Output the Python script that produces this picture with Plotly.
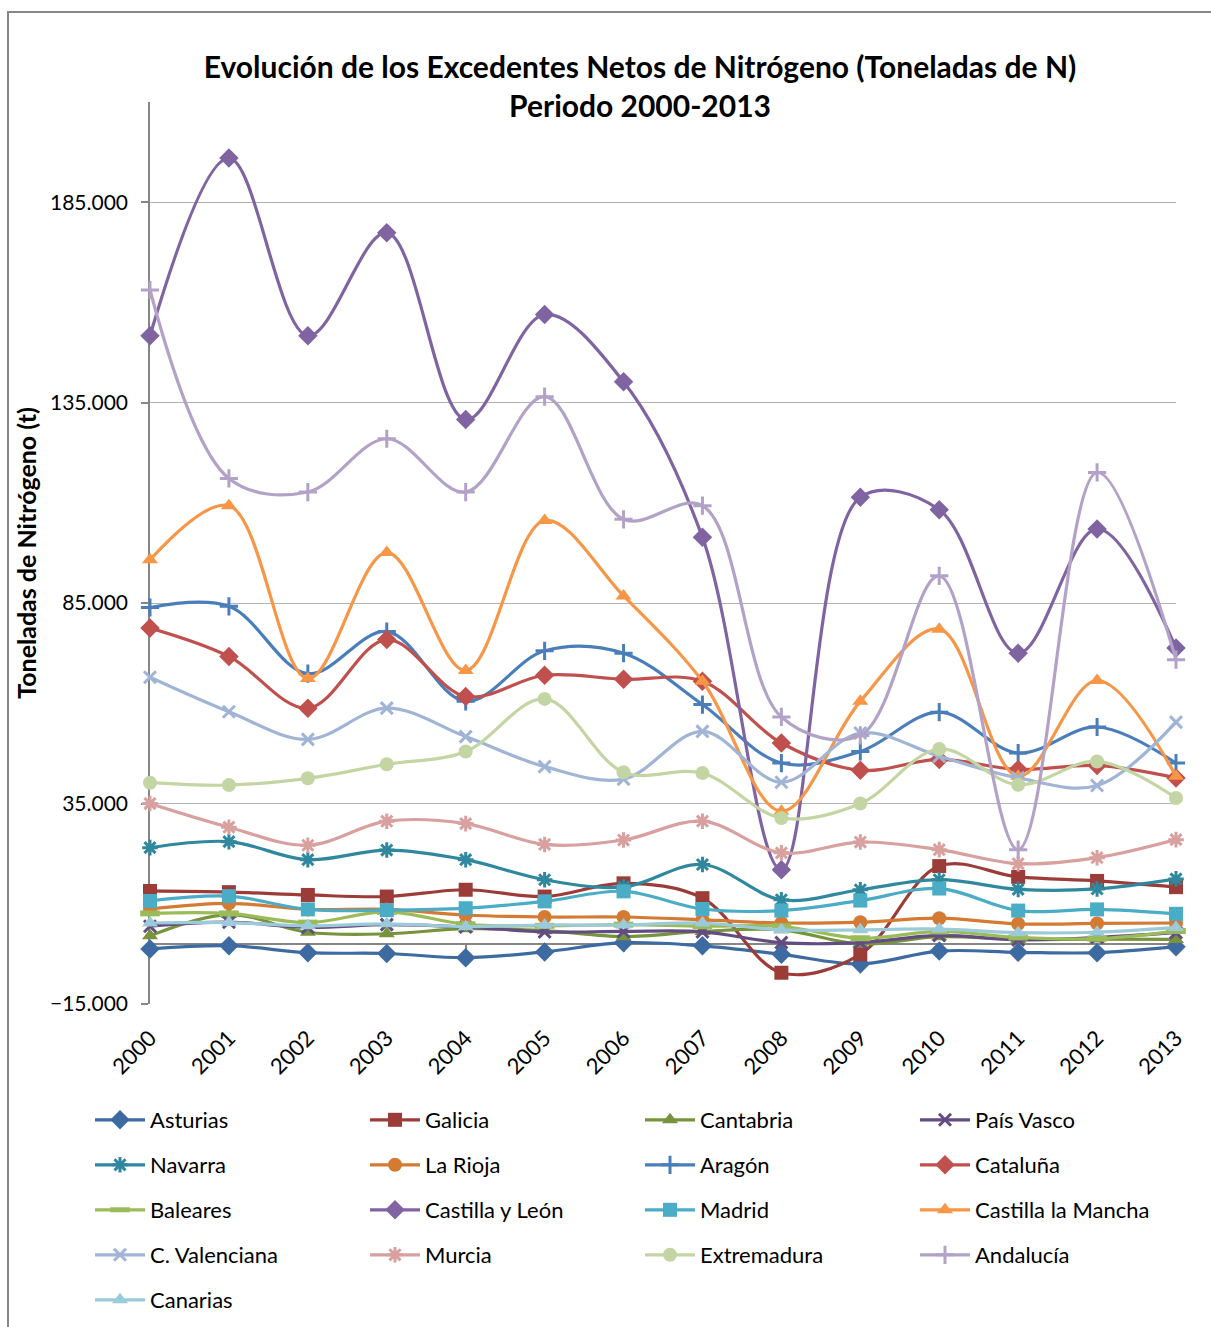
import plotly.graph_objects as go

years = list(range(2000, 2014))
year_labels = [str(y) for y in years]

asturias = [-1250, -450, -2200, -2400, -3450, -2000, 300, -500, -2600, -5000, -1800, -2100, -2200, -700]
galicia = [13200, 12900, 12200, 11800, 13500, 11800, 15100, 11400, -7200, -2600, 19400, 16700, 15700, 14150]
cantabria = [2000, 7300, 2900, 2500, 3800, 3300, 1800, 3100, 3500, 0, 1800, 1100, 1200, 1100]
pais_vasco = [4400, 5400, 4100, 4800, 4200, 3000, 3100, 3000, 300, 300, 2100, 1000, 1600, 2800]
navarra = [24000, 25500, 21000, 23400, 21000, 16000, 14200, 19800, 11000, 13500, 16000, 13600, 13700, 16200]
la_rioja = [8700, 10100, 8600, 8600, 7200, 6700, 6700, 6000, 5200, 5400, 6400, 5000, 5100, 5200]
aragon = [83900, 84200, 67400, 77900, 60500, 73100, 72500, 59700, 45100, 48000, 57800, 47600, 54100, 45100]
cataluna = [78800, 71700, 58800, 75900, 61700, 67000, 66000, 65500, 50100, 43300, 46000, 43500, 44500, 41400]
baleares = [7600, 7600, 5300, 8000, 4900, 4500, 4800, 4400, 4400, 1400, 3100, 1600, 1300, 3200]
castilla_leon = [151700, 196000, 151700, 177400, 130800, 157000, 140200, 101400, 18500, 111400, 108300, 72500, 103500, 73800]
madrid = [10700, 11900, 8600, 8400, 8900, 10600, 13100, 8700, 8300, 10800, 13800, 8300, 8600, 7500]
castilla_mancha = [95800, 109300, 66200, 97600, 68200, 105600, 86800, 65500, 33100, 60500, 78500, 41800, 65700, 41800]
c_valenciana = [66500, 57900, 51000, 58800, 51700, 44200, 41100, 53000, 40300, 52600, 46800, 41400, 39500, 55300]
murcia = [35000, 29100, 24600, 30600, 30000, 24800, 25900, 30600, 22700, 25400, 23500, 20000, 21500, 26000]
extremadura = [40200, 39600, 41300, 44800, 48000, 61100, 42800, 42600, 31400, 35000, 48600, 39700, 45500, 36400]
andalucia = [163100, 116100, 112700, 126000, 112700, 136500, 105900, 109300, 56600, 52000, 91800, 23500, 117600, 70900]
canarias = [5200, 5300, 4500, 5000, 4300, 4700, 4700, 5200, 3500, 3500, 3700, 2800, 2900, 4100]

series_names = ["Asturias", "Galicia", "Cantabria", "País Vasco", "Navarra", "La Rioja",
                "Aragón", "Cataluña", "Baleares", "Castilla y León", "Madrid",
                "Castilla la Mancha", "C. Valenciana", "Murcia", "Extremadura",
                "Andalucía", "Canarias"]
series_values = [asturias, galicia, cantabria, pais_vasco, navarra, la_rioja, aragon,
                 cataluna, baleares, castilla_leon, madrid, castilla_mancha,
                 c_valenciana, murcia, extremadura, andalucia, canarias]

colors = ["#3D6BA1", "#9C3C39", "#77933C", "#634C82", "#2F889E", "#D47A32",
          "#4A7EBB", "#C0504D", "#9BBB59", "#8064A2", "#4BACC6", "#F79646",
          "#A0B4D6", "#D8A09E", "#C3D5A2", "#B3A2C7", "#9BCAD9"]
# (symbol, size, marker line width)
markers = [("diamond", 15, 0), ("square", 14, 0), ("triangle-up", 14, 0),
           ("x-thin-open", 12, 3), ("asterisk-open", 13, 3), ("circle", 14, 0),
           ("cross-thin-open", 13, 3), ("diamond", 15, 0), ("line-ew-open", 14, 6),
           ("diamond", 15, 0), ("square", 14, 0), ("triangle-up", 14, 0),
           ("x-thin-open", 12, 3), ("asterisk-open", 13, 3), ("circle", 14, 0),
           ("cross-thin-open", 13, 3), ("triangle-up", 14, 0)]

FONT = "Lato"
W, H = 1211, 1327
L, R, T, B = 150, 35, 102, 323
YMIN, YMAX = -15000, 210000

# legend grid (4 columns x 5 rows), positions in page pixels
col_x = [90, 365, 640, 915]
row_y = [1120, 1165, 1210, 1255, 1300]

fig = go.Figure()
layout_legends = {}
for i, (name, vals) in enumerate(zip(series_names, series_values)):
    sym, size, lw = markers[i]
    key = "legend" if i == 0 else f"legend{i + 1}"
    layout_legends[key] = dict(
        orientation="h", xref="container", yref="container",
        x=col_x[i % 4] / W, y=1 - row_y[i // 4] / H,
        xanchor="left", yanchor="middle",
        font=dict(family=FONT, size=22, color="#000000"),
        bgcolor="rgba(0,0,0,0)", itemwidth=50)
    fig.add_trace(go.Scatter(
        x=years, y=vals, name=name, mode="lines+markers",
        line=dict(color=colors[i], width=3.2, shape="spline", smoothing=1.0),
        marker=dict(symbol=sym, size=size, color=colors[i],
                    line=dict(width=lw, color=colors[i])),
        cliponaxis=False,
        legend=key,
    ))

# helper trace for the horizontal axis crossing at zero
fig.add_trace(go.Scatter(x=years, y=[None] * len(years), xaxis="x2",
                         showlegend=False, hoverinfo="skip", mode="lines"))

fig.update_layout(
    width=W, height=H,
    margin=dict(l=L, r=R, t=T, b=B, autoexpand=False),
    paper_bgcolor="white", plot_bgcolor="white",
    separators=",.",
    font=dict(family=FONT, color="#000000"),
    title=dict(text="<b>Evolución de los Excedentes Netos de Nitrógeno (Toneladas de N)<br>Periodo 2000-2013</b>",
               x=640 / W, xref="container", xanchor="center",
               y=1 - 78 / H, yref="container", yanchor="middle",
               font=dict(family=FONT, size=30, color="#000000")),
    xaxis=dict(range=[2000, 2013], tickvals=years, ticktext=year_labels,
               tickangle=-45, ticks="", showline=False, showgrid=False,
               zeroline=False, tickfont=dict(family=FONT, size=22),
               ticklabelstandoff=16),
    xaxis2=dict(range=[2000, 2013], overlaying="x", anchor="free",
                position=(0 - YMIN) / (YMAX - YMIN), side="bottom",
                tickvals=years, showticklabels=False, ticks="outside",
                ticklen=7, tickcolor="#868686", tickwidth=1.5,
                showline=True, linecolor="#868686", linewidth=1.5,
                showgrid=False, zeroline=False, layer="below traces"),
    yaxis=dict(range=[YMIN, YMAX],
               tickvals=[-15000, 35000, 85000, 135000, 185000],
               tickformat=",.0f", ticks="outside", ticklen=7,
               tickcolor="#868686", tickwidth=1.5,
               showline=True, linecolor="#868686", linewidth=1.5,
               showgrid=True, gridcolor="#B3B3B3", gridwidth=1.3,
               zeroline=False, layer="below traces",
               tickfont=dict(family=FONT, size=21), ticklabelstandoff=9,
               title=dict(text="<b>Toneladas de Nitrógeno (t)</b>", standoff=6,
                          font=dict(family=FONT, size=25))),
    shapes=[dict(type="rect", xref="paper", yref="paper",
                 x0=(8 - L) / (W - L - R), x1=1.2,
                 y0=-0.6, y1=(H - B - 12) / (H - T - B),
                 line=dict(color="#868686", width=2), layer="below")],
    hovermode=False,
    **layout_legends,
)

fig.write_html("out.html")
